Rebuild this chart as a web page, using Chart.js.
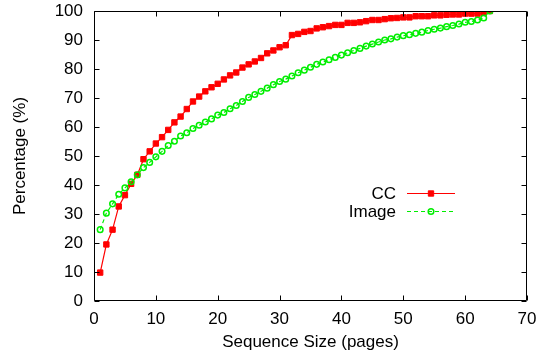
<!DOCTYPE html>
<html>
<head>
<meta charset="utf-8">
<script src="https://cdn.jsdelivr.net/npm/chart.js@4/dist/chart.umd.min.js"></script>
<style>
  html, body { margin: 0; padding: 0; background: #fff; }
  #wrap { width: 540px; height: 356px; }
</style>
</head>
<body>
<div id="wrap"><canvas id="c" width="540" height="356"></canvas></div>
<script>
const pageSizes = [1,2,3,4,5,6,7,8,9,10,11,12,13,14,15,16,17,18,19,20,21,22,23,24,25,26,27,28,29,30,31,32,
  33,34,35,36,37,38,39,40,41,42,43,44,45,46,47,48,49,50,51,52,53,54,55,56,57,58,59,60,61,62,63,64];
const ccValues = [9.8,19.5,24.6,32.6,36.5,40.4,43.5,48.9,51.6,54.3,56.5,59.0,61.6,63.6,66.2,68.8,
  70.5,72.3,73.7,74.9,76.4,77.8,78.8,80.5,81.6,82.6,83.8,85.4,86.4,87.5,88.2,91.7,
  92.1,92.8,93.1,94.0,94.4,94.8,95.2,95.2,95.9,95.9,96.1,96.5,96.9,96.9,97.2,97.5,
  97.6,97.8,97.8,98.2,98.2,98.2,98.5,98.5,98.7,98.8,98.8,99.1,99.1,99.1,99.3,100];
const imageValues = [24.6,30.3,33.5,36.8,39.0,41.1,43.5,46.0,47.8,49.7,51.6,53.6,55.1,56.9,58.0,59.5,
  60.6,61.7,62.8,64.1,65.0,66.3,67.4,68.8,70.2,71.2,72.3,73.4,74.6,75.7,76.5,77.6,
  78.7,79.6,80.6,81.6,82.4,83.2,84.0,84.8,85.6,86.4,87.1,87.9,88.6,89.3,90.0,90.4,
  91.0,91.5,91.8,92.3,92.7,93.3,93.7,94.1,94.6,95.0,95.5,96.1,96.4,96.9,97.6,100];
const seriesNames = ['CC', 'Image'];
const xTitle = 'Sequence Size (pages)';
const yTitle = 'Percentage (%)';

const RED = '#ff0000';
const GREEN = '#00ee00';
const FONT = 'Liberation Sans, Arial, Helvetica, sans-serif';

function toPoints(xs, ys) { return xs.map((x, i) => ({x: x, y: ys[i]})); }

const framePlugin = {
  id: 'frame',
  afterDatasetsDraw(chart) {
    const {ctx, chartArea: a, scales} = chart;
    ctx.save();
    ctx.strokeStyle = '#000';
    ctx.lineWidth = 1;
    const L = Math.round(a.left) + 0.5, R = Math.round(a.right) - 0.5;
    const T = Math.round(a.top) + 0.5, B = Math.round(a.bottom) - 0.5;
    ctx.beginPath();
    ctx.rect(L, T, R - L, B - T);
    ctx.stroke();
    const tl = 5;
    ctx.beginPath();
    scales.x.ticks.forEach(t => {
      const px = Math.round(scales.x.getPixelForValue(t.value)) + 0.5;
      ctx.moveTo(px, B); ctx.lineTo(px, B - tl);
      ctx.moveTo(px, T); ctx.lineTo(px, T + tl);
    });
    scales.y.ticks.forEach(t => {
      const py = Math.round(scales.y.getPixelForValue(t.value)) + 0.5;
      ctx.moveTo(L, py); ctx.lineTo(L + tl, py);
      ctx.moveTo(R, py); ctx.lineTo(R - tl, py);
    });
    ctx.stroke();
    ctx.restore();
  },
  afterDraw(chart) {
    const {ctx, chartArea: a} = chart;
    const textRight = a.right - 131;
    const lx0 = a.right - 120, lx1 = a.right - 72, mx = (lx0 + lx1) / 2;
    const rows = [a.top + 182, a.top + 200];
    ctx.save();
    ctx.font = '17px ' + FONT;
    ctx.textAlign = 'right';
    ctx.textBaseline = 'middle';
    chart.data.datasets.forEach((ds, i) => {
      const y = rows[i];
      ctx.fillStyle = '#000';
      ctx.fillText(ds.label, textRight, y + 1);
      ctx.strokeStyle = ds.borderColor;
      ctx.lineWidth = ds.borderWidth;
      ctx.setLineDash(ds.borderDash || []);
      ctx.beginPath();
      ctx.moveTo(lx0, y + 0.5); ctx.lineTo(lx1, y + 0.5);
      ctx.stroke();
      ctx.setLineDash([]);
      ctx.fillStyle = ds.pointBackgroundColor;
      ctx.strokeStyle = ds.pointBorderColor;
      ctx.lineWidth = ds.pointBorderWidth;
      ctx.beginPath();
      if (ds.pointStyle === 'rect') {
        const s = Math.SQRT1_2 * ds.pointRadius;
        ctx.rect(mx - s, y + 0.5 - s, 2 * s, 2 * s);
        ctx.fill(); ctx.stroke();
      } else {
        ctx.arc(mx, y + 0.5, ds.pointRadius, 0, Math.PI * 2);
        ctx.stroke();
      }
    });
    ctx.restore();
  }
};

new Chart(document.getElementById('c'), {
  type: 'line',
  data: {
    datasets: [
      {
        label: seriesNames[0],
        data: toPoints(pageSizes, ccValues),
        borderColor: RED, backgroundColor: RED,
        borderWidth: 1.2,
        pointStyle: 'rect', pointRadius: 3.8, pointBorderWidth: 1,
        pointBackgroundColor: RED, pointBorderColor: RED,
        tension: 0, order: 2
      },
      {
        label: seriesNames[1],
        data: toPoints(pageSizes, imageValues),
        borderColor: GREEN, backgroundColor: 'rgba(0,0,0,0)',
        borderWidth: 1.2, borderDash: [4, 3],
        pointStyle: 'circle', pointRadius: 2.8, pointBorderWidth: 1.5,
        pointBackgroundColor: 'rgba(0,0,0,0)', pointBorderColor: GREEN,
        tension: 0, order: 1
      }
    ]
  },
  plugins: [framePlugin],
  options: {
    responsive: false,
    animation: false,
    events: [],
    layout: { padding: 0 },
    plugins: { legend: { display: false }, tooltip: { enabled: false } },
    scales: {
      x: {
        type: 'linear', min: 0, max: 70,
        ticks: { stepSize: 10, padding: 8, color: '#000', font: { family: FONT, size: 17 }, maxRotation: 0 },
        grid: { display: false, drawTicks: false },
        border: { display: false },
        title: { display: true, text: xTitle, color: '#000', font: { family: FONT, size: 17 }, padding: { top: 0, bottom: 3 } },
        afterFit(s) { s.height = 55; s.paddingLeft = 0; s.paddingRight = 13; }
      },
      y: {
        type: 'linear', min: 0, max: 100,
        ticks: { stepSize: 10, padding: 11, color: '#000', font: { family: FONT, size: 17 } },
        grid: { display: false, drawTicks: false },
        border: { display: false },
        title: { display: true, text: yTitle, color: '#000', font: { family: FONT, size: 17 }, padding: { top: 10, bottom: 0 } },
        afterFit(s) { s.width = 94; s.paddingTop = 11; s.paddingBottom = 0; }
      }
    }
  }
});
</script>
</body>
</html>
